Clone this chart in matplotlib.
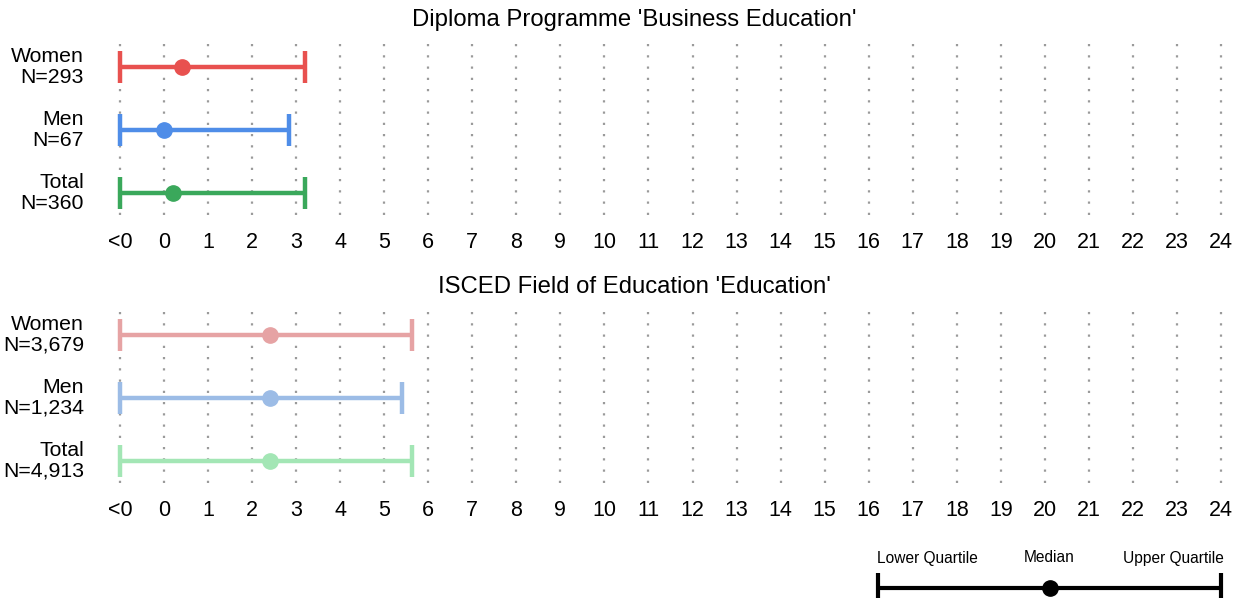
import matplotlib
matplotlib.use("Agg")
import matplotlib.pyplot as plt

plt.rcParams['font.family'] = ['Liberation Sans', 'DejaVu Sans']
plt.rcParams['lines.scale_dashes'] = False

# ---- data ----
tick_labels = ["<0"] + [str(i) for i in range(0, 25)]
tick_pos = list(range(-1, 25))          # "<0" is drawn at position -1

panel_titles = ["Diploma Programme 'Business Education'",
                "ISCED Field of Education 'Education'"]
group_names = ["Women", "Men", "Total"]
n_top = ["293", "67", "360"]
n_bottom = ["3,679", "1,234", "4,913"]

lower_top = [-1, -1, -1]
median_top = [0.41, 0.0, 0.2]
upper_top = [3.2, 2.84, 3.2]

lower_bottom = [-1, -1, -1]
median_bottom = [2.41, 2.41, 2.41]
upper_bottom = [5.64, 5.41, 5.64]

colors_top = ["#E8514F", "#4F8DE8", "#3AA85B"]
colors_bottom = ["#E6A3A4", "#9CBCE6", "#A3E6B5"]

# ---- figure ----
W, H = 1246, 598
fig = plt.figure(figsize=(W / 100, H / 100), dpi=100)

def px_axes(left, top, right, bottom):
    return fig.add_axes([left / W, 1 - bottom / H, (right - left) / W, (bottom - top) / H])

# x mapping: -1 -> 120 px, 24 -> 1221 px
ppu = (1221 - 120) / 25.0
ax_left, ax_right = 100, 1240
xlim = (-1 - (120 - ax_left) / ppu, 24 + (ax_right - 1221) / ppu)

def draw_panel(top_row_px, title, title_y, ns, lows, meds, ups, cols):
    row_sp = 63.0
    top = top_row_px - 27
    bottom = top_row_px + 2 * row_sp + 27
    ax = px_axes(ax_left, top, ax_right, bottom)
    ax.set_xlim(*xlim)
    ax.set_ylim(2 + 27 / row_sp, -27 / row_sp)
    for s in ax.spines.values():
        s.set_visible(False)
    ax.set_yticks([])
    ax.set_xticks(tick_pos)
    ax.set_xticklabels(tick_labels, fontsize=15.5)
    ax.tick_params(axis='x', length=0, pad=8.5)
    # dotted grid
    ax.vlines(tick_pos, -23 / row_sp, 2 + 22 / row_sp, colors="#9A9A9A",
              linewidth=1.6, linestyles=[(0, (1.6, 6.5))], zorder=0)
    for i in range(3):
        ax.errorbar([meds[i]], [i], xerr=[[meds[i] - lows[i]], [ups[i] - meds[i]]],
                    fmt='o', color=cols[i], markersize=11, elinewidth=3.2,
                    capsize=11.2, capthick=3.2, zorder=3)
        ax.text(-1 - 36 / ppu, i, f"{group_names[i]}\nN={ns[i]}", ha='right', va='center',
                fontsize=15.3, linespacing=1.1)
    fig.text(634 / W, 1 - title_y / H, title, ha='center', va='center', fontsize=17.2)
    return ax

draw_panel(67, panel_titles[0], 20, n_top, lower_top, median_top, upper_top, colors_top)
draw_panel(335, panel_titles[1], 287, n_bottom, lower_bottom, median_bottom, upper_bottom, colors_bottom)

# ---- legend ----
lax = px_axes(878, 570, 1221, 598)
lax.set_xlim(0, 1)
lax.set_ylim(1, 0)
lax.axis('off')
lax.errorbar([0.5], [0.64], xerr=[[0.5], [0.5]], fmt='o', color='black', markersize=11,
             elinewidth=3, capsize=11, capthick=3, clip_on=False)
fig.text(927 / W, 1 - 558 / H, "Lower Quartile", ha='center', va='center', fontsize=11.2)
fig.text(1049 / W, 1 - 558 / H, "Median", ha='center', va='center', fontsize=11.2)
fig.text(1173 / W, 1 - 558 / H, "Upper Quartile", ha='center', va='center', fontsize=11.2)

fig.savefig("out.png", dpi=100)
